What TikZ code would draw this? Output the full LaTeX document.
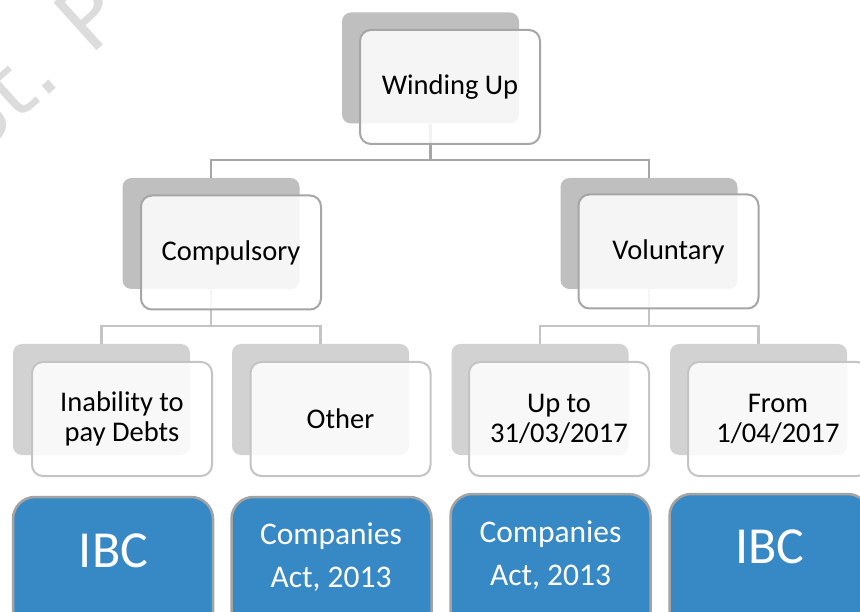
\documentclass[tikz,border=0pt]{standalone}
\usepackage{fontspec}
\setmainfont{Carlito}
\newfontfamily\wmfont{DejaVu Sans}
\definecolor{backA}{HTML}{BFBFBF}
\definecolor{backB}{HTML}{D2D2D2}
\definecolor{edgeA}{HTML}{A6A6A6}
\definecolor{edgeB}{HTML}{C4C4C4}
\definecolor{blueF}{HTML}{3789C6}
\definecolor{blueE}{HTML}{A3A3A3}
\definecolor{wmgray}{HTML}{DCDCDC}
\begin{document}
\begin{tikzpicture}[x=1pt,y=-1pt,
  backbox/.style={rectangle, rounded corners=9pt, inner sep=0pt,
    minimum width=177pt, minimum height=111pt},
  backtop/.style={backbox, fill=backA},
  backlow/.style={backbox, fill=backB},
  frontbox/.style={rectangle, rounded corners=11pt, inner sep=0pt,
    minimum width=180pt, minimum height=114pt, line width=2pt,
    fill=white, fill opacity=0.86, text opacity=1, align=center,
    font=\fontsize{28.5}{30}\selectfont},
  fronttop/.style={frontbox, draw=edgeA},
  frontlow/.style={frontbox, draw=edgeB},
  linktop/.style={draw=edgeA, line width=2.2pt},
  linklow/.style={draw=edgeB, line width=2.2pt},
  bluebox/.style={rectangle, rounded corners=22pt, inner sep=0pt,
    minimum width=200pt, minimum height=150pt, fill=blueF, draw=blueE,
    line width=2.5pt},
  bluetext/.style={text=white, align=center, inner sep=0pt},
  wmark/.style={text=wmgray, font=\wmfont\fontsize{88}{88}\selectfont,
    rotate=42, anchor=base west, inner sep=0pt}
]
\useasboundingbox (0,0) rectangle (860,612);
\begin{scope}
\clip (0,0) rectangle (860,612);
% watermark
\node[wmark] (wm) at (-25,161) {St. P};

% back boxes
\node[backtop] (b0) at (430.5,68) {};
\node[backtop] (b1) at (211,233.5) {};
\node[backtop] (b2) at (649,233.5) {};
\node[backlow] (b11) at (101.5,399.5) {};
\node[backlow] (b12) at (320.5,399.5) {};
\node[backlow] (b21) at (540,399.5) {};
\node[backlow] (b22) at (758.5,399.5) {};

% connectors
\coordinate (j0) at (430.5,160);
\coordinate (j1) at (211,326);
\coordinate (j2) at (649,326);
\draw[linktop] (b0.south) -- (j0) -| (b1.north);
\draw[linktop] (j0) -| (b2.north);
\draw[linklow] (b1.south) -- (j1) -| (b11.north);
\draw[linklow] (j1) -| (b12.north);
\draw[linklow] (b2.south) -- (j2) -| (b21.north);
\draw[linklow] (j2) -| (b22.north);

% front boxes
\node[fronttop] (f0) at (450,87) {Winding Up};
\node[fronttop] (f1) at (231,252.5) {Compulsory};
\node[fronttop] (f2) at (668.5,251.5) {Voluntary};
\node[frontlow] (f11) at (122,419) {Inability to\\pay Debts};
\node[frontlow] (f12) at (340.5,419) {Other};
\node[frontlow] (f21) at (559,419) {Up to\\31/03/2017};
\node[frontlow] (f22) at (778,419) {From\\1/04/2017};

% blue boxes
\node[bluebox] (c11) at (113,572) {};
\node[bluebox] (c12) at (331.5,572) {};
\node[bluebox] (c21) at (550.5,569) {};
\node[bluebox] (c22) at (769.5,569) {};
\node[bluetext, font=\fontsize{52}{52}\selectfont, anchor=base] (t11) at (113.5,567) {IBC};
\node[bluetext, font=\fontsize{31.5}{43}\selectfont, anchor=base] (t12a) at (331,544) {Companies};
\node[bluetext, font=\fontsize{31.5}{43}\selectfont, anchor=base] (t12b) at (331,587) {Act, 2013};
\node[bluetext, font=\fontsize{31.5}{43}\selectfont, anchor=base] (t21a) at (550.5,542) {Companies};
\node[bluetext, font=\fontsize{31.5}{43}\selectfont, anchor=base] (t21b) at (550.5,585) {Act, 2013};
\node[bluetext, font=\fontsize{52}{52}\selectfont, anchor=base] (t22) at (770,563) {IBC};
\end{scope}
\end{tikzpicture}
\end{document}
